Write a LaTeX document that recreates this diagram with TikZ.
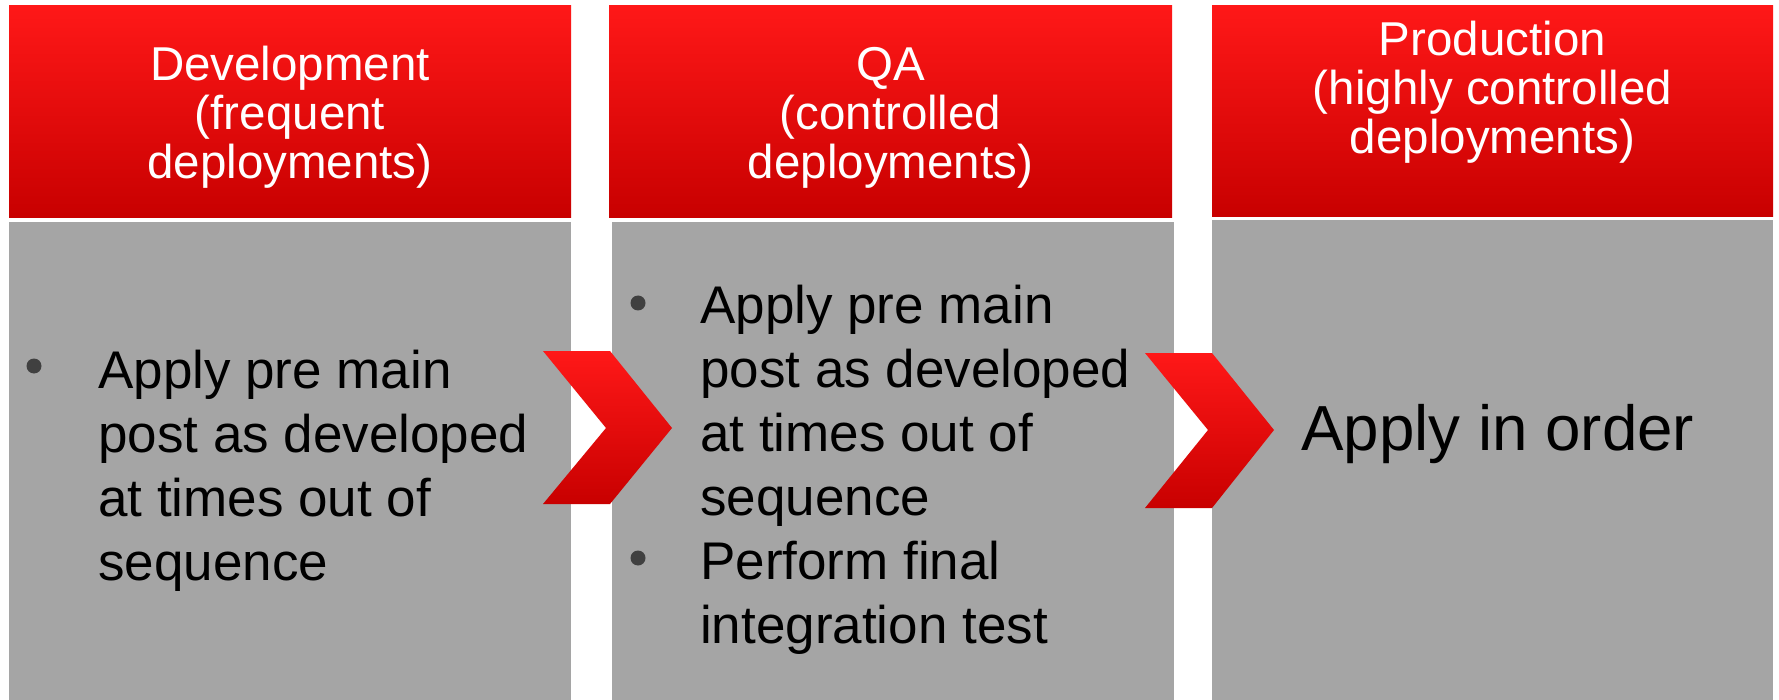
\documentclass[tikz,border=0pt]{standalone}
\usepackage{fontspec}
\setmainfont{Liberation Sans}
\usetikzlibrary{positioning}

\definecolor{headTop}{RGB}{255,24,24}
\definecolor{headBottom}{RGB}{200,0,0}
\definecolor{bodyGray}{RGB}{165,165,165}
\definecolor{bulletGray}{RGB}{64,64,64}

\begin{document}
\begin{tikzpicture}[x=1pt, y=1pt,
        headBox/.style={anchor=north west, inner sep=0, top color=headTop, bottom color=headBottom},
        bodyBox/.style={anchor=north west, inner sep=0, fill=bodyGray},
        headText/.style={anchor=base, inner sep=0, align=center, text=white, font=\fontsize{47.5}{49}\selectfont},
        bodyText/.style={anchor=base west, inner sep=0, align=left, font=\fontsize{53}{64}\selectfont},
        bulletDot/.style={circle, inner sep=0, minimum size=15pt, fill=bulletGray},
        chevronShade/.style={top color=headTop, bottom color=headBottom}]
    \path [use as bounding box, fill=white] (0,0) rectangle (1779,-700);
    % development column (text nodes sit on their last baseline)
    \node [headBox, minimum width=562pt, minimum height=212pt] (devHead) at (9,-5) {};
    \node [bodyBox, minimum width=562pt, minimum height=478pt] (devBody) at (9,-222) {};
    \node [headText] (devTitle) at (290,-178.6) {Development\\(frequent\\deployments)};
    \node [bulletDot] (devDot) at (34,-366) {};
    \node [bodyText] (devText) at (98,-580) {Apply pre main\\post as developed\\at times out of\\sequence};
    % qa column
    \node [headBox, minimum width=563pt, minimum height=212pt] (qaHead) at (609,-5) {};
    \node [bodyBox, minimum width=562pt, minimum height=478pt] (qaBody) at (612,-222) {};
    \node [headText] (qaTitle) at (890.5,-178.6) {QA\\(controlled\\deployments)};
    \node [bulletDot] (qaDotA) at (638,-303) {};
    \node [bodyText] (qaTextA) at (700,-515) {Apply pre main\\post as developed\\at times out of\\sequence};
    \node [bulletDot] (qaDotB) at (638,-558) {};
    \node [bodyText] (qaTextB) at (700,-643) {Perform final\\integration test};
    % production column
    \node [headBox, minimum width=561pt, minimum height=211pt] (prodHead) at (1212,-5) {};
    \node [bodyBox, minimum width=561pt, minimum height=480pt] (prodBody) at (1212,-220) {};
    \node [headText] (prodTitle) at (1492.5,-154) {Production\\(highly controlled\\deployments)};
    \node [anchor=base west, inner sep=0, font=\fontsize{63.7}{76}\selectfont] (prodText) at (1301,-450) {Apply in order};
    % chevrons
    \shade [chevronShade] (543,-351) -- (610,-351) -- (672,-428) -- (610,-504) -- (543,-504) -- (606,-428) -- cycle;
    \shade [chevronShade] (1145,-353) -- (1212,-353) -- (1274,-430) -- (1212,-508) -- (1145,-508) -- (1208,-430) -- cycle;
\end{tikzpicture}
\end{document}
